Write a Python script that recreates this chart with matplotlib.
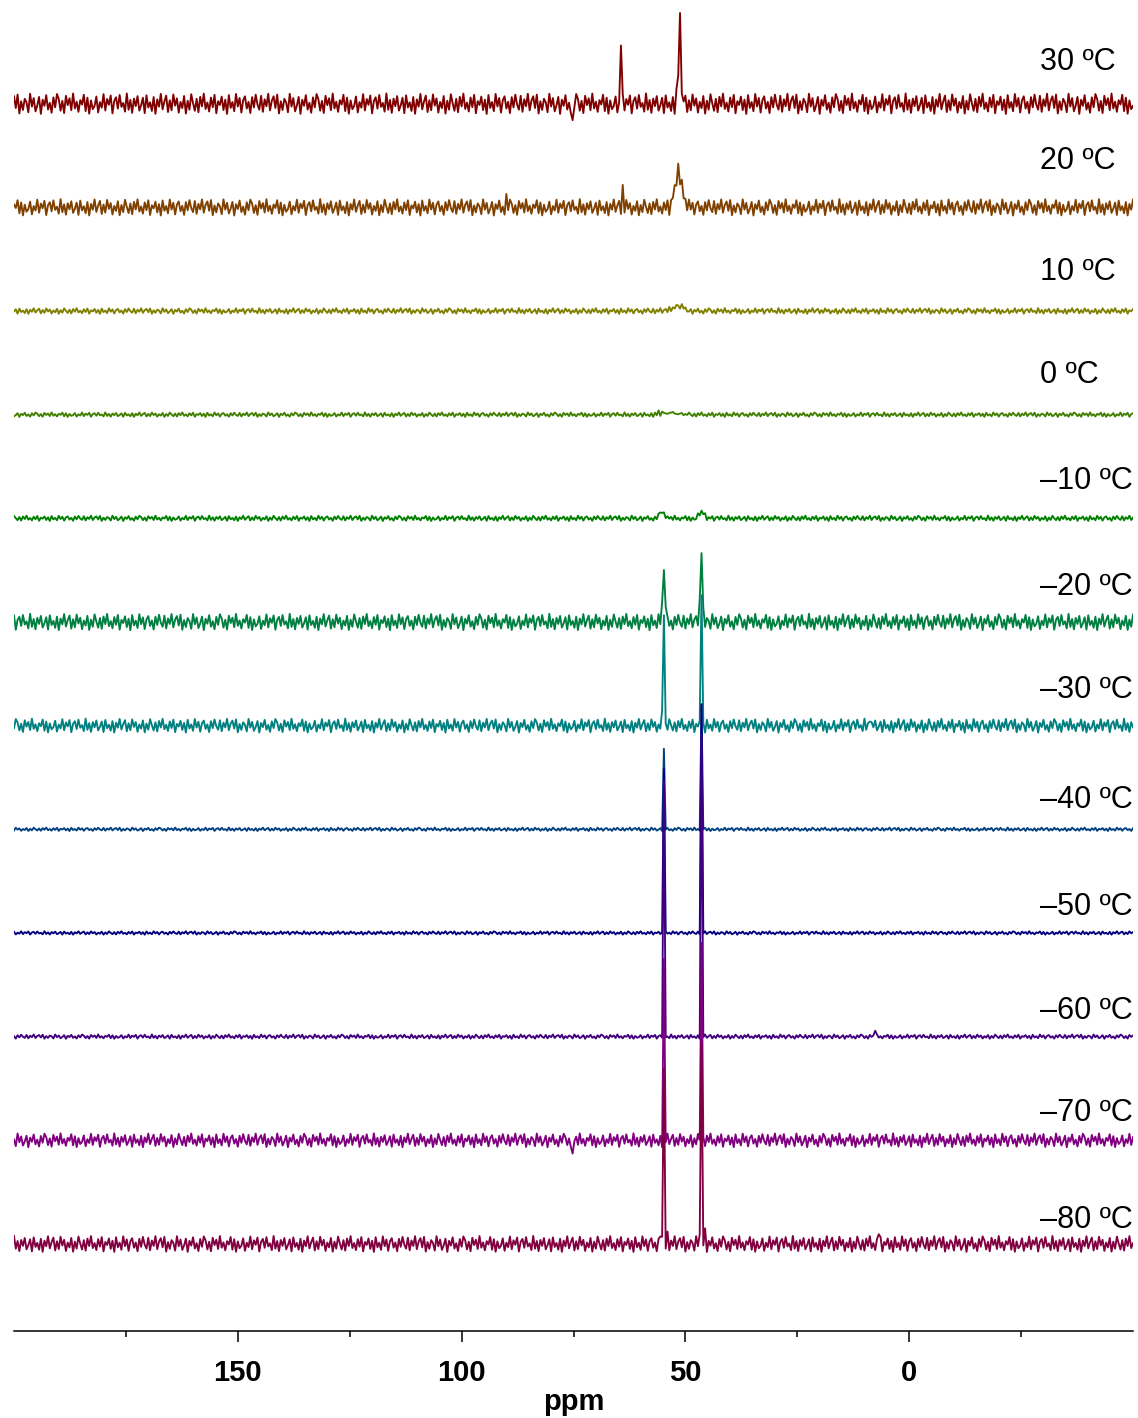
import numpy as np
import matplotlib
matplotlib.use('Agg')
import matplotlib.pyplot as plt
from matplotlib.ticker import FixedLocator

plt.rcParams['font.family'] = ['Liberation Sans', 'DejaVu Sans']

# temperatures, top to bottom
labels = ['30 ºC', '20 ºC', '10 ºC', '0 ºC', '–10 ºC', '–20 ºC', '–30 ºC',
          '–40 ºC', '–50 ºC', '–60 ºC', '–70 ºC', '–80 ºC']
colors = ['#800000', '#804000', '#808000', '#408000', '#008000', '#008040',
          '#008080', '#004080', '#000080', '#400080', '#800080', '#800040']

# baseline noise level of each trace (half peak-to-peak, in stack units)
noise_level = [0.10, 0.08, 0.028, 0.022, 0.026, 0.08, 0.068,
               0.017, 0.017, 0.021, 0.068, 0.078]

# signals: (ppm, height) per trace
peaks = [
    [(75.2, -0.22), (64.5, 0.6), (52.1, 0.1), (51.7, 0.3), (51.3, 0.78), (50.9, 0.15)],
    [(90.0, 0.08), (64.1, 0.19), (53.0, 0.05), (52.6, 0.1), (52.2, 0.16), (51.8, 0.26),
     (51.4, 0.39), (51.0, 0.3), (50.6, 0.2), (50.2, 0.12), (49.8, 0.07), (49.4, 0.03)],
    [(53.4, 0.015), (53.0, 0.025), (52.6, 0.03), (52.2, 0.04), (51.8, 0.045), (51.4, 0.05),
     (51.0, 0.045), (50.6, 0.04), (50.2, 0.03), (49.8, 0.02), (49.4, 0.015)],
    [(56.6, 0.01), (55.8, 0.02), (55.0, 0.025), (54.2, 0.03), (53.4, 0.03), (52.6, 0.03),
     (51.8, 0.025), (51.0, 0.02), (50.2, 0.015), (49.4, 0.01)],
    [(55.8, 0.02), (55.4, 0.045), (55.0, 0.07), (54.6, 0.05), (54.2, 0.025),
     (47.0, 0.03), (46.6, 0.05), (46.2, 0.07), (45.8, 0.05), (45.4, 0.025)],
    [(55.0, 0.15), (54.6, 0.57), (54.2, 0.12), (46.6, 0.15), (46.2, 0.74), (45.8, 0.12)],
    [(55.0, 0.1), (54.6, 1.13), (46.2, 1.3), (8.6, 0.1)],
    [(54.6, 0.77), (46.2, 1.18)],
    [(54.6, 1.6), (46.2, 2.2)],
    [(54.6, 2.45), (46.2, 2.9), (7.4, 0.07)],
    [(75.2, -0.18), (54.6, 1.72), (46.2, 1.95)],
    [(55.4, 0.1), (54.6, 1.7), (53.8, 0.06), (46.6, 0.05), (46.2, 2.0), (45.4, 0.1), (6.8, 0.12)],
]

# hand-typed baseline wiggle, reused with a different start for each trace
wiggle = [0.71, -0.42, 0.88, -0.95, 0.23, -0.61, 0.47, 0.12, -0.83, 0.96, -0.28, 0.54,
          -0.74, -0.18, 0.65, -0.99, 0.38, -0.21, 0.82, -0.57, 0.09, -0.88, 0.61, -0.35,
          0.93, 0.44, -0.68, 0.27, -0.91, 0.76, -0.14, 0.52, -0.63, 0.98, -0.46, 0.19,
          -0.79, 0.34, -0.08, 0.86, -0.72, 0.58, -0.97, 0.31, -0.53, -0.22, 0.69, -0.85,
          0.15, -0.39, 0.92, -0.66, 0.45, -0.11, 0.79, -0.94, 0.26, 0.62, -0.48, 0.84,
          -0.31, 0.07, -0.77, 0.99, -0.59, 0.36, -0.89, 0.49, -0.24, 0.73, -0.67, -0.16,
          0.57, -0.92, 0.81, -0.37, 0.13, -0.71, 0.64, -0.98, 0.41, -0.29, 0.95, -0.55,
          0.21, 0.78, -0.81, 0.33, -0.64, 0.89, -0.19, 0.51, -0.87, 0.17, -0.43, 0.74,
          -0.96, 0.28, -0.58, 0.91, 0.05, -0.69, 0.47, -0.83, 0.66, -0.26, 0.97, -0.51,
          0.11, -0.76, 0.59, -0.34, 0.85, -0.93, 0.24, -0.13, 0.68, -0.62, 0.39, -0.99,
          0.83, -0.41, 0.16, -0.73, 0.94, -0.27, 0.55, -0.86, 0.32, 0.71, -0.47, 0.18,
          -0.91, 0.63, -0.36, 0.87, -0.09, -0.58, 0.76, -0.79, 0.42, -0.25, 0.96, -0.65,
          0.29]
starts = [0, 37, 71, 12, 99, 54, 23, 88, 46, 131, 7, 63]

ppm = np.arange(200.0, -50.01, -0.4)

# layout
spacing = 1.0
label_lift = [0.40, 0.45, 0.38, 0.38, 0.36, 0.34, 0.34, 0.28, 0.25, 0.25, 0.26, 0.23]

fig = plt.figure(figsize=(11.38, 14.18), dpi=100)
ax = fig.add_axes([14 / 1138, 1 - 1331 / 1418, 1119 / 1138, 1331 / 1418])

n = len(ppm)
for i, lab in enumerate(labels):
    base = -i * spacing
    idx = [(starts[i] + j) % len(wiggle) for j in range(n)]
    y = base + noise_level[i] * np.array(wiggle)[idx]
    for pos, h in peaks[i]:
        k = int(np.argmin(np.abs(ppm - pos)))
        y[k] += h
    ax.plot(ppm, y, color=colors[i], lw=1.35)
    ax.text(0.917, base + label_lift[i], lab, transform=ax.get_yaxis_transform(),
            fontsize=22, va='center', ha='left')

ax.set_xlim(200, -50)
ax.set_ylim(-11.84, 1.0)
ax.set_yticks([])
for s in ['left', 'top', 'right']:
    ax.spines[s].set_visible(False)
ax.spines['bottom'].set_linewidth(1.1)
ax.xaxis.set_major_locator(FixedLocator([150, 100, 50, 0]))
ax.xaxis.set_minor_locator(FixedLocator([175, 125, 75, 25, -25]))
ax.tick_params(axis='x', which='major', length=8, width=1.1, pad=12, labelsize=21)
ax.tick_params(axis='x', which='minor', length=4, width=1.1)
for t in ax.get_xticklabels():
    t.set_fontweight('bold')
ax.set_xlabel('ppm', fontsize=21, fontweight='bold', labelpad=1)

fig.savefig('out.png', dpi=100)
